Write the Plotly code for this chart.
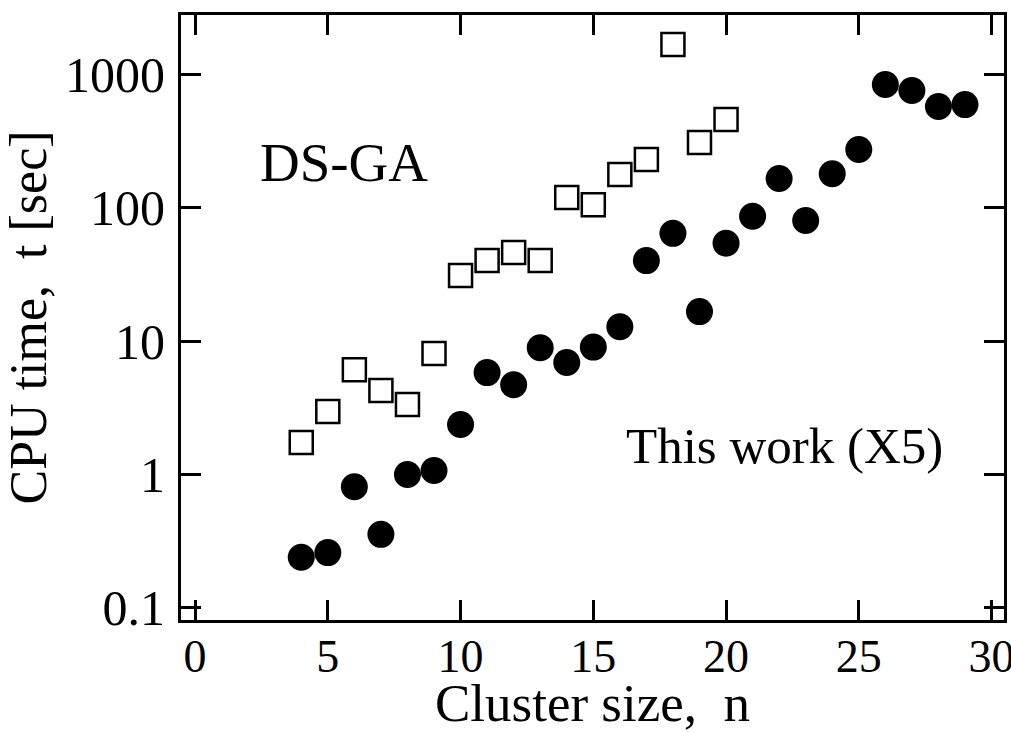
import plotly.graph_objects as go

# Data
n_dsga = [4, 5, 6, 7, 8, 9, 10, 11, 12, 13, 14, 15, 16, 17, 18, 19, 20]
t_dsga = [1.74, 2.96, 6.1, 4.26, 3.35, 8.06, 31, 40, 46, 40, 119, 105, 177, 229, 1660, 307, 456]

n_this = [4, 5, 6, 7, 8, 9, 10, 11, 12, 13, 14, 15, 16, 17, 18, 19, 20, 21, 22, 23, 24, 25, 26, 27, 28, 29]
t_this = [0.24, 0.26, 0.81, 0.356, 1.0, 1.07, 2.37, 5.8, 4.7, 8.9, 6.9, 9.0, 12.8, 40, 64, 16.6, 54,
          86, 165, 80, 179, 272, 834, 752, 571, 590]

x_ticks = [0, 5, 10, 15, 20, 25, 30]
y_ticks = [0.1, 1, 10, 100, 1000]
y_tick_text = ["0.1", "1", "10", "100", "1000"]

FONT = "Liberation Serif"

fig = go.Figure()
fig.add_trace(go.Scatter(
    x=n_dsga, y=t_dsga, mode="markers", name="DS-GA",
    marker=dict(symbol="square-open", size=23, color="black", line=dict(width=2.5, color="black")),
))
fig.add_trace(go.Scatter(
    x=n_this, y=t_this, mode="markers", name="This work (X5)",
    marker=dict(symbol="circle", size=27, color="black", line=dict(width=0)),
))

fig.add_annotation(x=5.61, y=2.337, xref="x", yref="y", text="DS-GA", showarrow=False,
                   font=dict(family=FONT, size=55, color="black"))
fig.add_annotation(x=22.22, y=0.21, xref="x", yref="y", text="This work (X5)", showarrow=False,
                   font=dict(family=FONT, size=51, color="black"))

fig.update_layout(
    width=1011, height=732,
    margin=dict(l=181, r=7, t=15, b=112, autoexpand=False),
    paper_bgcolor="white", plot_bgcolor="white",
    showlegend=False,
    font=dict(family=FONT, color="black"),
)
fig.update_xaxes(
    range=[-0.53, 30.47], tickvals=x_ticks, ticks="inside", ticklen=20, tickwidth=2.5,
    tickcolor="black", showline=True, linewidth=3, linecolor="black", mirror="allticks",
    showgrid=False, zeroline=False, ticklabeloverflow="allow", ticklabelstandoff=-6,
    automargin=False,
    tickfont=dict(family=FONT, size=46, color="black"),
    title=dict(text="Cluster size,  n", font=dict(family=FONT, size=53, color="black"), standoff=10),
)
fig.update_yaxes(
    type="log", range=[-1.09, 3.442], tickvals=y_ticks, ticktext=y_tick_text,
    ticks="inside", ticklen=20, tickwidth=2.5, tickcolor="black",
    showline=True, linewidth=3, linecolor="black", mirror="allticks",
    showgrid=False, zeroline=False, ticklabeloverflow="allow", ticklabelstandoff=3,
    automargin=False,
    tickfont=dict(family=FONT, size=50, color="black"),
    title=dict(text="CPU time,  t [sec]", font=dict(family=FONT, size=52, color="black"), standoff=4),
)

fig.write_html("out.html")
